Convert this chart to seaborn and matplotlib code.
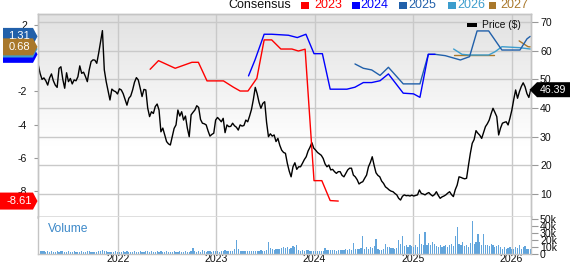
import numpy as np
import pandas as pd
import matplotlib
matplotlib.use("Agg")
import matplotlib.pyplot as plt
import matplotlib.dates as mdates
from matplotlib.patches import Polygon, Rectangle
import seaborn as sns

# ---------------- data ----------------
week_start = "2021-03-12"

price = [
    55.0, 52.0, 50.0, 50.5, 49.5, 48.0, 50.5, 51.9, 49.5, 48.0,
    47.2, 53.8, 54.4, 50.0, 46.9, 52.3, 49.2, 50.3, 48.4, 49.8,
    49.5, 50.9, 54.7, 52.1, 52.5, 51.0, 49.2, 53.3, 56.2, 56.8,
    56.7, 55.6, 59.1, 63.0, 67.0, 53.3, 49.2, 46.0, 42.8, 46.6,
    46.0, 45.7, 44.9, 46.7, 46.3, 45.0, 43.0, 41.0, 43.4, 44.2,
    46.3, 49.0, 50.6, 49.8, 47.0, 44.0, 46.5, 46.3, 40.0, 37.0,
    38.7, 38.1, 40.5, 41.4, 39.3, 31.7, 33.0, 30.6, 28.3, 27.5,
    27.1, 30.0, 32.9, 34.1, 39.3, 37.2, 38.7, 35.8, 37.2, 33.0,
    30.0, 37.6, 38.5, 39.3, 40.8, 40.2, 36.0, 34.7, 34.5, 34.1,
    32.0, 30.2, 30.8, 31.2, 35.8, 36.7, 36.0, 35.2, 36.4, 31.4,
    34.1, 33.5, 33.6, 34.7, 33.8, 33.3, 32.3, 34.1, 33.7, 33.9,
    35.8, 35.2, 37.2, 39.5, 43.0, 47.2, 45.0, 42.0, 39.9, 41.6,
    42.2, 35.0, 30.0, 31.0, 30.2, 30.6, 28.3, 29.4, 27.0, 25.3,
    24.5, 24.2, 20.7, 18.0, 16.0, 19.5, 20.9, 18.6, 19.5, 19.5,
    20.7, 22.0, 23.0, 25.0, 26.3, 27.9, 26.0, 25.3, 24.5, 24.0,
    23.5, 22.4, 20.5, 19.5, 20.1, 18.4, 18.6, 17.8, 17.2, 17.8,
    17.8, 16.5, 16.0, 17.2, 18.4, 19.0, 19.0, 16.6, 16.0, 15.0,
    13.5, 14.0, 14.3, 15.5, 16.6, 19.5, 21.0, 23.0, 20.0, 17.4,
    16.5, 16.0, 14.5, 13.7, 12.5, 12.0, 11.4, 11.0, 10.8, 10.2,
    9.7, 8.5, 7.9, 9.2, 9.7, 9.4, 9.5, 9.3, 9.6, 9.3,
    9.5, 9.7, 11.4, 10.2, 10.0, 9.7, 10.2, 10.5, 9.8, 9.3,
    9.8, 10.8, 9.5, 8.5, 9.0, 9.3, 9.7, 10.3, 10.8, 9.8,
    9.1, 11.5, 13.1, 16.0, 15.8, 15.5, 15.3, 15.5, 20.0, 24.2,
    27.7, 29.0, 32.1, 31.2, 30.5, 29.4, 31.5, 33.5, 34.5, 35.8,
    38.0, 39.9, 38.5, 37.0, 30.6, 33.0, 34.7, 35.0, 35.2, 34.1,
    36.5, 39.3, 43.0, 46.3, 43.4, 45.7, 47.5, 48.8, 47.4, 45.0,
    43.7, 46.39,
]

volume_k = [
    5.5, 4, 3, 3.5, 2.5, 3, 2.5, 3, 2, 2.5,
    3, 2.5, 4, 3, 2, 2.5, 3, 2.5, 2, 3,
    2.5, 2, 2.5, 3, 2, 2.5, 4, 3, 2.5, 2,
    2.5, 2, 3, 3.5, 5, 4, 3, 2.5, 2, 2.5,
    2, 3, 2.5, 2, 2.5, 3, 2, 3.5, 2.5, 2,
    2.5, 3, 2, 2.5, 3, 2.5, 2, 3, 3.5, 2.5,
    3, 2.5, 2, 3, 2.5, 3, 2, 2.5, 3, 2.5,
    2, 2.5, 3, 2, 2.5, 3, 2.5, 2, 3, 2.5,
    2.5, 3, 8.5, 3, 2.5, 3.5, 2.5, 5, 3, 2.5,
    3, 3.5, 2.5, 3, 3.5, 3, 2.5, 3, 3.5, 5,
    3.5, 3, 3.5, 4, 6, 19, 6, 4, 3.5, 3,
    3.5, 4, 3, 3.5, 4, 3, 3.5, 4, 4.5, 3.5,
    4, 5, 16, 8, 6, 5, 6, 7, 6.5, 8,
    10, 8, 9, 7, 8, 11, 9, 12, 5, 4,
    5, 4, 4.5, 5, 3.5, 3, 4, 3.5, 3, 3.5,
    4, 3, 8, 5, 5.5, 4.5, 5, 5.5, 4, 5,
    4.5, 5, 5.5, 6, 5, 6, 5, 15.5, 6, 7,
    6, 8, 25, 7, 9, 6.5, 9, 8, 11, 21,
    6, 5, 5, 6, 14, 10, 9, 8, 8.5, 7,
    8, 19, 14, 25, 11, 12, 10, 13, 11, 10,
    12, 9, 29, 14, 12, 31, 12, 15, 13, 16,
    14, 11, 10, 12, 9, 11, 13, 10, 12, 14,
    11, 26, 38, 14, 12, 16, 11, 13, 10, 15,
    47, 14, 17, 28, 17, 13, 28, 12, 13, 11,
    14, 12, 10, 11, 13, 10, 7, 9, 6, 8,
    9, 7, 6, 10, 8, 12, 7, 9, 11, 7,
    6, 7,
]

eps_2023_dates = ["2022-05-01", "2022-06-01", "2022-08-02", "2022-10-03", "2022-10-27",
                  "2022-11-28", "2023-01-28", "2023-03-06", "2023-03-31", "2023-04-29",
                  "2023-06-01", "2023-06-28", "2023-07-26", "2023-08-29", "2023-10-09",
                  "2023-11-02", "2023-11-27", "2023-12-30", "2024-01-28", "2024-02-28",
                  "2024-03-29"]
eps_2023 = [-0.67, -0.15, -0.61, -0.25, -0.25,
            -1.37, -1.37, -1.75, -1.98, -1.98,
            -1.21, 1.10, 1.10, 0.55, 0.55,
            0.43, 0.54, -7.38, -7.38, -8.58,
            -8.61]

eps_2024_dates = ["2023-05-01", "2023-05-25", "2023-06-28", "2023-07-26", "2023-09-26",
                  "2023-10-29", "2023-11-30", "2023-12-30", "2024-01-30", "2024-02-28",
                  "2024-04-30", "2024-05-30", "2024-06-30", "2024-07-31", "2024-08-31",
                  "2024-10-01", "2024-11-25", "2025-01-02", "2025-01-26", "2025-02-26",
                  "2025-03-23"]
eps_2024 = [-1.07, -0.11, 1.44, 1.44, 1.38,
            1.24, 1.44, 0.27, 0.27, -1.87,
            -1.87, -1.75, -1.47, -1.47, -1.36,
            -0.95, -2.11, -2.15, -2.36, 0.23,
            0.23]

eps_2025_dates = ["2024-05-30", "2024-06-30", "2024-07-31", "2024-08-31", "2024-10-01",
                  "2024-11-25", "2025-01-26", "2025-02-26", "2025-03-23", "2025-04-30",
                  "2025-06-25", "2025-07-29", "2025-08-26", "2025-10-08", "2025-11-26",
                  "2026-02-01", "2026-02-27", "2026-03-11"]
eps_2025 = [-0.35, -0.61, -0.71, -1.04, -0.55,
            -1.55, -1.55, 0.23, 0.23, 0.15,
            -0.11, 0.09, 1.64, 1.64, 0.49,
            0.49, 1.16, 1.31]

eps_2026_dates = ["2025-05-31", "2025-07-01", "2025-07-29", "2025-10-08", "2025-11-01",
                  "2025-11-26", "2026-02-01", "2026-03-11"]
eps_2026 = [0.55, 0.23, 0.19, 0.19, 0.39,
            0.69, 0.63, 0.55]

eps_2027_dates_a = ["2025-05-31", "2025-10-26"]
eps_2027_a = [0.19, 0.19]
eps_2027_dates_b = ["2026-01-29", "2026-03-03", "2026-03-11"]
eps_2027_b = [1.04, 0.69, 0.68]

years = ["2023", "2024", "2025", "2026", "2027"]
year_colors = ["#ff0000", "#0000ff", "#2160aa", "#3c9dcd", "#a9782b"]

price_ticks = [10, 20, 30, 40, 50, 60, 70]
eps_ticks = [2, -2, -4, -6, -8]
vol_ticks = [0, 10, 20, 30, 40, 50]
vol_tick_labels = ["0", "10k", "20k", "30k", "40k", "50k"]

last_price_label = "46.39"

# ---------------- figure ----------------
sns.set_style("white")
plt.rcParams['font.family'] = ['Liberation Sans', 'DejaVu Sans']

W, H = 571, 264
fig = plt.figure(figsize=(W / 100, H / 100), dpi=100)
L, R = 38, 531
T, MB, VB = 14, 217, 253.5
ax = fig.add_axes([L / W, 1 - MB / H, (R - L) / W, (MB - T) / H])
axv = fig.add_axes([L / W, 1 - VB / H, (R - L) / W, (VB - MB) / H])
ax_eps = ax.twinx()

weeks = pd.date_range(week_start, periods=len(price), freq="7D")
xmin, xmax = pd.Timestamp("2021-03-11"), pd.Timestamp("2026-03-14")

# background gradient
fr = np.linspace(1, 0, 200)[:, None]
g = np.clip(1 - (fr - 0.35) / 0.65 * (1 - 0.885), 0.885, 1.0)
img = np.dstack([g, g, g]) * np.ones((1, 2, 1))
ax.imshow(img, extent=[0, 1, 0, 1], transform=ax.transAxes, aspect="auto",
          zorder=0, interpolation="bilinear")

grid_c = "#c9c9c9"
spine_c = "#c4c4c4"

# price line
sns.lineplot(x=weeks, y=price, ax=ax, color="black", lw=1.0, zorder=3)
ax.set_xlim(xmin, xmax)
ax.set_ylim(1.98, 72.8)
ax.set_yticks(price_ticks)
ax.yaxis.tick_right()
ax.tick_params(axis="y", which="both", right=True, left=False, length=5,
               color="#999999", labelsize=7.6, pad=1.5, labelcolor="#111111")
ax.tick_params(axis="x", length=0, labelbottom=False)
ax.xaxis.set_major_locator(mdates.YearLocator())
ax.grid(True, color=grid_c, lw=1)
ax.set_axisbelow(True)
ax.set_xlabel("")
ax.set_ylabel("")

# EPS consensus lines
def eps_line(dates, vals, color):
    sns.lineplot(x=pd.to_datetime(dates), y=vals, ax=ax_eps, color=color, lw=1.0)

eps_line(eps_2027_dates_a, eps_2027_a, year_colors[4])
eps_line(eps_2027_dates_b, eps_2027_b, year_colors[4])
eps_line(eps_2026_dates, eps_2026, year_colors[3])
eps_line(eps_2025_dates, eps_2025, year_colors[2])
eps_line(eps_2024_dates, eps_2024, year_colors[1])
eps_line(eps_2023_dates, eps_2023, year_colors[0])
ax_eps.set_xlim(xmin, xmax)
ax_eps.set_ylim(-9.57, 2.66)
ax_eps.yaxis.tick_left()
ax_eps.yaxis.set_label_position("left")
ax_eps.set_yticks(eps_ticks)
ax_eps.set_yticklabels([str(t) for t in eps_ticks])
ax_eps.tick_params(axis="y", left=True, right=False, length=3, color="#999999",
                   labelsize=7.6, pad=5, labelcolor="#111111")
ax_eps.set_xlabel("")
ax_eps.set_ylabel("")

for a in (ax, ax_eps):
    for s in a.spines.values():
        s.set_color(spine_c)
        s.set_linewidth(1)
ax.spines["bottom"].set_color("#dcdcdc")
ax.spines["bottom"].set_linewidth(2)
ax_eps.spines["bottom"].set_visible(False)

# volume
axv.bar(weeks, volume_k, width=4.5, color="#62a5dc", zorder=2, linewidth=0)
axv.set_xlim(xmin, xmax)
axv.set_ylim(0, 53)
axv.set_yticks(vol_ticks)
axv.set_yticklabels(vol_tick_labels)
axv.yaxis.tick_right()
axv.tick_params(axis="y", right=True, left=False, length=5, color="#999999",
                labelsize=7.6, pad=1.5, labelcolor="#111111")
axv.xaxis.set_major_locator(mdates.YearLocator())
axv.xaxis.set_major_formatter(mdates.DateFormatter("%Y"))
axv.tick_params(axis="x", length=0, labelsize=7.6, pad=0.5, labelcolor="#111111")
axv.grid(True, axis="x", color=grid_c, lw=1)
axv.set_axisbelow(True)
for s in axv.spines.values():
    s.set_color(spine_c)
    s.set_linewidth(1)
axv.spines["top"].set_visible(False)

fig.text(48 / W, 1 - 229 / H, "Volume", color="#3d89c9", fontsize=8.7, va="center", ha="left")

# top legend
fig.text(228 / W, 1 - 5.3 / H, "Consensus", color="#111111", fontsize=9, va="center", ha="left")
sq_x = [301, 351.5, 398.5, 447.5, 488.5]
tx_x = [314, 360.5, 408, 457.5, 500]
for yr, c, sx, tx in zip(years, year_colors, sq_x, tx_x):
    fig.add_artist(Rectangle((sx / W, 1 - 8.5 / H), 8 / W, 7 / H, transform=fig.transFigure,
                             facecolor=c, edgecolor="none"))
    fig.text(tx / W, 1 - 5.3 / H, yr, color=c, fontsize=9, va="center", ha="left")

# price legend inside
fig.add_artist(Rectangle((467 / W, 1 - 27 / H), 10 / W, 4 / H, transform=fig.transFigure,
                         facecolor="black", edgecolor="none"))
fig.text(482 / W, 1 - 25.3 / H, "Price ($)", color="#111111", fontsize=7.4, va="center", ha="left")

# value tags
fig.canvas.draw()

def left_tag(val, color, text, x0=3):
    yc = ax_eps.transData.transform((0, val))[1]
    h = 8.5
    pts = [(x0, yc - h), (33, yc - h), (37.5, yc), (33, yc + h), (x0, yc + h)]
    fig.add_artist(Polygon(pts, closed=True, transform=None, facecolor=color,
                           edgecolor="none", zorder=5))
    if text:
        fig.text(19 / W, yc / H, text, color="white", fontsize=8, ha="center",
                 va="center", zorder=6)

left_tag(eps_2024[-1], year_colors[1], None)
left_tag(eps_2026[-1], year_colors[3], None)
left_tag(eps_2025[-1], year_colors[2], f"{eps_2025[-1]:.2f}")
left_tag(eps_2027_b[-1], year_colors[4], f"{eps_2027_b[-1]:.2f}")
left_tag(eps_2023[-1], year_colors[0], f"{eps_2023[-1]:.2f}", x0=0)

yc = ax.transData.transform((0, price[-1]))[1]
pts = [(529.5, yc), (537, yc - 7.5), (570, yc - 7.5), (570, yc + 7.5), (537, yc + 7.5)]
fig.add_artist(Polygon(pts, closed=True, transform=None, facecolor="black",
                       edgecolor="none", zorder=5))
fig.text(553 / W, yc / H, last_price_label, color="white", fontsize=7.6, ha="center",
         va="center", zorder=6)

fig.savefig("out.png", dpi=100)
